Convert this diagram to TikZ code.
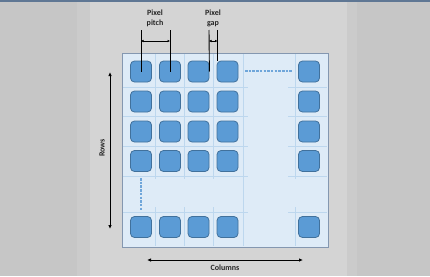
\documentclass[tikz,border=0pt]{standalone}
\usepackage{fontspec}
\setmainfont{Carlito}
\usetikzlibrary{arrows.meta}
\definecolor{bgdark}{HTML}{C6C6C6}
\definecolor{bgmid}{HTML}{CBCBCB}
\definecolor{bglight}{HTML}{D4D4D4}
\definecolor{topline}{HTML}{5F7794}
\definecolor{arrfill}{HTML}{DEEBF7}
\definecolor{arrdraw}{HTML}{8497B0}
\definecolor{gridc}{HTML}{BDD7EE}
\definecolor{pixfill}{HTML}{5B9BD5}
\definecolor{pixdraw}{HTML}{41719C}
\definecolor{dashc}{HTML}{6FA6DA}
\definecolor{txt}{HTML}{262626}
\tikzset{
  pix/.style={draw=pixdraw, fill=pixfill, line width=0.8pt, rounded corners=4pt,
    minimum width=21pt, minimum height=21pt, inner sep=0pt},
  gridline/.style={draw=gridc, line width=0.6pt},
  dimline/.style={draw=black, line width=0.9pt},
  dimarrow/.style={draw=black, line width=0.9pt, {Latex[length=2.5pt,width=2.5pt]}-{Latex[length=2.5pt,width=2.5pt]}},
  bigarrow/.style={draw=black, line width=0.9pt, {Latex[length=4pt,width=3.5pt]}-{Latex[length=4pt,width=3.5pt]}},
  lbl/.style={text=txt, font=\bfseries\fontsize{8}{10}\selectfont, align=center, inner sep=0pt},
  dashln/.style={draw=dashc, line width=1.1pt, dash pattern=on 2.5pt off 1.2pt}
}
\begin{document}
\begin{tikzpicture}[x=1pt,y=-1pt]
\useasboundingbox (0,0) rectangle (430,276);
\fill[bgdark] (0,0) rectangle (430,276);
\fill[bgmid] (77,0) rectangle (90,276);
\fill[bglight] (90,0) rectangle (347,276);
\fill[bgmid] (347,0) rectangle (357,276);
\fill[topline] (0,0) rectangle (430,1.5);

% array
\node[draw=arrdraw, fill=arrfill, line width=0.8pt, minimum width=206pt, minimum height=194pt,
  inner sep=0pt, anchor=north west] (array) at (122,53) {};

% grid
\foreach \y in {87,116,146,176,212} {
  \draw[gridline] (123,\y) -- (248,\y);
  \draw[gridline] (288,\y) -- (327,\y);
}
\foreach \x in {155,184,213,295} {
  \draw[gridline] (\x,54) -- (\x,179);
  \draw[gridline] (\x,207) -- (\x,246);
}
\draw[gridline] (243,54) -- (243,246);

% pixels
\foreach \c/\x in {1/141,2/170,3/198.5,4/227.5,5/309} {
  \foreach \r/\y in {1/71.5,2/101.5,3/131.5,4/161,5/227} {
    \node[pix] (p\r\c) at (\x,\y) {};
  }
}

% ellipsis dashes
\coordinate (dh1) at (245,71);
\coordinate (dh2) at (293,71);
\draw[dashln] (dh1) -- (dh2);
\coordinate (dv1) at (141,178);
\coordinate (dv2) at (141,210);
\draw[dashln] (dv1) -- (dv2);

% pixel pitch
\node[lbl] (pitch) at (155,18) {Pixel\\pitch};
\coordinate (pa) at (141,30);
\coordinate (pb) at (170,30);
\draw[dimline] (pa) -- (p11.center);
\draw[dimline] (pb) -- (p12.center);
\coordinate (pa2) at (141,41);
\coordinate (pb2) at (170,41);
\draw[dimarrow] (pa2) -- (pb2);

% pixel gap
\node[lbl] (gap) at (213,18) {Pixel\\gap};
\coordinate (ga) at (209,30);
\coordinate (gb) at (217.5,30);
\draw[dimline] (ga) -- (p13.east);
\draw[dimline] (gb) -- (217.5,61);
\coordinate (ga2) at (209,41);
\coordinate (gb2) at (217.5,41);
\draw[dimarrow] (ga2) -- (gb2);

% rows
\coordinate (r1) at (110,72);
\coordinate (r2) at (110,229);
\draw[bigarrow] (r1) -- (r2);
\node[lbl, rotate=90] (rows) at (102,148) {Rows};

% columns
\coordinate (c1) at (147,260);
\coordinate (c2) at (303,260);
\draw[bigarrow] (c1) -- (c2);
\node[lbl] (cols) at (225,268) {Columns};
\end{tikzpicture}
\end{document}
